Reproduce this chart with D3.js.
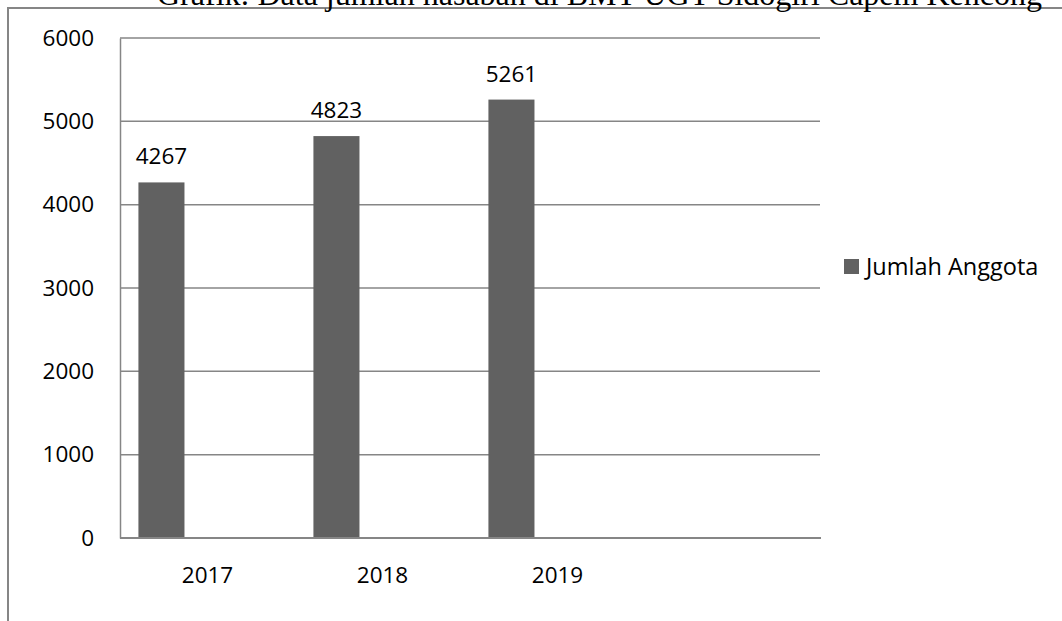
<!DOCTYPE html>
<html>
<head>
<meta charset="utf-8">
<script src="https://cdn.jsdelivr.net/npm/d3@7"></script>
<style>
  body { margin: 0; background: #fff; }
  svg { display: block; }
</style>
</head>
<body>
<div id="chart"></div>
<script>
// chart values
const title = "Grafik: Data jumlah nasabah di BMT UGT Sidogiri Capem Kencong";
const years = ["2017", "2018", "2019"];
const xCategories = ["2017", "2018", "2019", ""];   // Excel left an empty 4th slot
const seriesName = "Jumlah Anggota";
const members = [4267, 4823, 5261];
const yTicks = [0, 1000, 2000, 3000, 4000, 5000, 6000];

const W = 1062, H = 621;
const plot = { left: 120, right: 820, top: 38, bottom: 538 };
const gridColor = "#868686";
const barColor = "#616161";
const font = "'Open Sans', sans-serif";

const svg = d3.select("#chart").append("svg")
    .attr("width", W)
    .attr("height", H);

svg.append("rect").attr("width", W).attr("height", H).attr("fill", "#fff");

// outer frame
svg.append("path")
    .attr("d", `M8,${H} L8,8 L${W},8`)
    .attr("fill", "none")
    .attr("stroke", gridColor)
    .attr("stroke-width", 2);

// Title (partly cut off at top, as in the source)
svg.append("text")
    .attr("x", 157)
    .attr("y", 5)
    .attr("textLength", 885)
    .attr("lengthAdjust", "spacingAndGlyphs")
    .style("font-family", "'Liberation Serif', 'Times New Roman', serif")
    .style("font-size", "32px")
    .attr("fill", "#000")
    .text(title);

// Scales
let x = d3.scaleBand()
    .domain(xCategories)
    .range([plot.left, plot.right])
    .padding(0);

// three series slots per category, only first used
let xInner = d3.scaleBand()
    .domain([0, 1, 2])
    .range([0, x.bandwidth()])
    .paddingInner(0)
    .paddingOuter(0.4);

let y = d3.scaleLinear()
    .domain([0, 6000])
    .range([plot.bottom, plot.top]);

// Gridlines
svg.append("g")
    .selectAll("line")
    .data(yTicks.filter(d => d > 0))
    .join("line")
    .attr("x1", plot.left)
    .attr("x2", plot.right)
    .attr("y1", d => y(d))
    .attr("y2", d => y(d))
    .attr("stroke", gridColor)
    .attr("stroke-width", 1.5);

// Y-axis (labels only, plus line)
const yAxis = svg.append("g")
    .attr("transform", `translate(${plot.left},0)`)
    .call(d3.axisLeft(y).tickValues(yTicks).tickFormat(d3.format("d")).tickSize(0).tickPadding(26));
yAxis.select(".domain").attr("stroke", gridColor).attr("stroke-width", 1.5);
yAxis.selectAll("text")
    .style("font-family", font)
    .style("font-size", "22.5px")
    .attr("fill", "#000");

// Bars
svg.append("g")
    .selectAll("rect")
    .data(members)
    .join("rect")
    .attr("x", (d, i) => x(years[i]) + xInner(0))
    .attr("y", d => y(d))
    .attr("width", xInner.bandwidth())
    .attr("height", d => y(0) - y(d))
    .attr("fill", barColor);

// Value labels
svg.append("g")
    .selectAll("text")
    .data(members)
    .join("text")
    .attr("x", (d, i) => x(years[i]) + xInner(0) + xInner.bandwidth() / 2)
    .attr("y", d => y(d) - 18)
    .attr("text-anchor", "middle")
    .style("font-family", font)
    .style("font-size", "22.5px")
    .attr("fill", "#000")
    .text(d => d);

// X-axis
const xAxis = svg.append("g")
    .attr("transform", `translate(0,${plot.bottom})`)
    .call(d3.axisBottom(x).tickSize(0).tickPadding(29));
xAxis.select(".domain")
    .attr("d", `M${plot.left},0H${plot.right + 1}`)
    .attr("stroke", gridColor)
    .attr("stroke-width", 2);
xAxis.selectAll("text")
    .style("font-family", font)
    .style("font-size", "22.5px")
    .attr("fill", "#000");

// Legend
const legend = svg.append("g").attr("transform", "translate(844,259)");
legend.append("rect")
    .attr("width", 15)
    .attr("height", 15)
    .attr("fill", barColor);
legend.append("text")
    .attr("x", 22)
    .attr("y", 16)
    .style("font-family", font)
    .style("font-size", "23.5px")
    .attr("fill", "#000")
    .text(seriesName);
</script>
</body>
</html>
